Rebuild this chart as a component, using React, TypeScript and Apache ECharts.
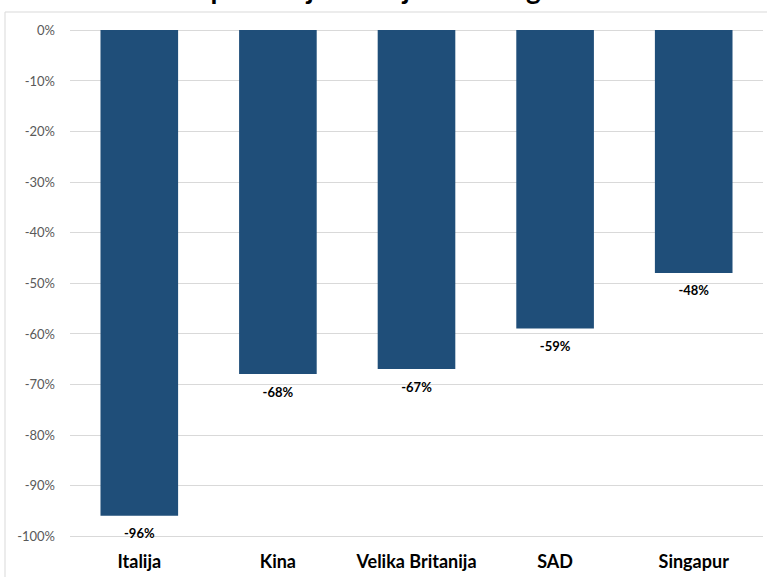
import React, { useEffect, useRef } from "react";
import * as echarts from "echarts";

const categories = ["Italija", "Kina", "Velika Britanija", "SAD", "Singapur"];
const values = [-96, -68, -67, -59, -48];
const titleText = "Pad potrošnje u ožujku 2020. godine";

export default function App() {
  const ref = useRef<HTMLDivElement>(null);
  useEffect(() => {
    document.body.style.margin = "0";
    const chart = echarts.init(ref.current!, null, { renderer: "svg" });
    chart.setOption({
      animation: false,
      backgroundColor: "#ffffff",
      textStyle: { fontFamily: "Lato" },
      graphic: [
        {
          type: "rect",
          shape: { x: 5, y: 12, width: 900, height: 700 },
          style: { fill: "none", stroke: "#d9d9d9", lineWidth: 1 },
          silent: true,
          z: -1,
        },
        {
          type: "text",
          left: "center",
          top: -26,
          style: {
            text: titleText,
            font: "bold 28px Lato",
            fill: "#000000",
          },
        },
      ],
      grid: { left: 70, right: 4, top: 30, bottom: 41, containLabel: false },
      xAxis: {
        type: "category",
        data: categories,
        position: "bottom",
        axisLine: { show: false },
        axisTick: { show: false },
        axisLabel: {
          interval: 0,
          fontFamily: "Lato",
          fontWeight: "bold",
          fontSize: 18,
          color: "#000000",
          margin: 16,
        },
      },
      yAxis: {
        type: "value",
        min: -100,
        max: 0,
        interval: 10,
        axisLine: { show: false },
        axisTick: { show: false },
        splitLine: { lineStyle: { color: "#d9d9d9", width: 1 } },
        axisLabel: {
          formatter: "{value}%",
          fontFamily: "Lato",
          fontSize: 13,
          color: "#595959",
          margin: 15,
        },
      },
      series: [
        {
          type: "bar",
          data: values,
          barWidth: "56%",
          itemStyle: { color: "#1f4e79" },
          label: {
            show: true,
            position: "bottom",
            distance: 11,
            formatter: "{c}%",
            fontFamily: "Lato",
            fontWeight: "bold",
            fontSize: 13,
            color: "#000000",
          },
        },
      ],
    });
    return () => chart.dispose();
  }, []);
  return (
    <div
      ref={ref}
      style={{ position: "fixed", left: 0, top: 0, width: 767, height: 577 }}
    />
  );
}
